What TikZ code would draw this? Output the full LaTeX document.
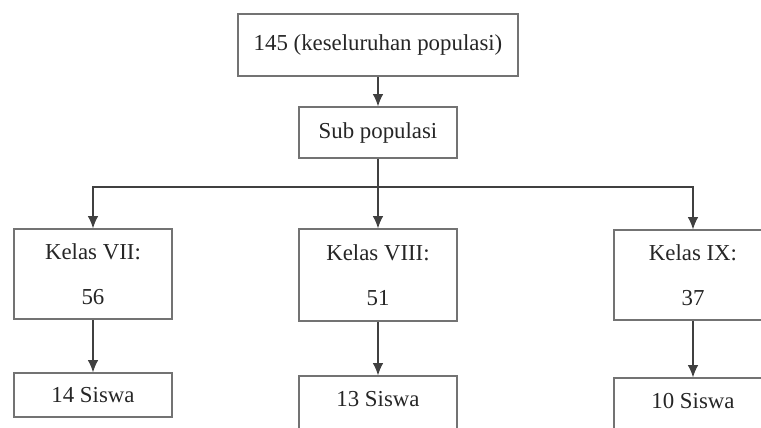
\documentclass[tikz,border=0pt]{standalone}
\usepackage{fontspec}
\setmainfont{Liberation Serif}
\usepackage{tikz}
\usetikzlibrary{arrows.meta}

\begin{document}
\begin{tikzpicture}[x=0.02cm, y=-0.02cm, line width=0.7pt, >={Latex[length=7pt, width=6pt]},
    every node/.style={rectangle, draw=black!55, fill=white, text=black!85, align=center,
        inner sep=0pt, font=\fontsize{13}{15.5}\selectfont},
    level/.style={minimum width=158*0.02cm, minimum height=#1*0.02cm}]
    \useasboundingbox (0, 0) rectangle (761, 427);

    % Population
    \node[minimum width=280*0.02cm, minimum height=62*0.02cm] (pop) at (378, 45) {145 (keseluruhan populasi)};
    \node[level=51] (sub) at (378, 132.5) {Sub populasi} edge [<-, draw=black!75] (pop);
    \coordinate (bus) at (378, 187);

    % Classes
    \node[level=90] (kvii) at (93, 274) {Kelas VII:\\[10pt]56};
    \node[level=92] (kviii) at (378, 275) {Kelas VIII:\\[10pt]51};
    \node[level=90] (kix) at (693, 275) {Kelas IX:\\[10pt]37};

    \draw[draw=black!75] (sub) -- (bus);
    \foreach \k in {kvii, kviii, kix}
    \draw[->, draw=black!75] (bus) -| (\k);

    % Samples
    \node[level=44] (svii) at (93, 395) {14 Siswa} edge [<-, draw=black!75] (kvii);
    \node[level=56, text depth=6pt] (sviii) at (378, 404) {13 Siswa} edge [<-, draw=black!75] (kviii);
    \node[level=56, text depth=6pt] (six) at (693, 406) {10 Siswa} edge [<-, draw=black!75] (kix);

\end{tikzpicture}
\end{document}
